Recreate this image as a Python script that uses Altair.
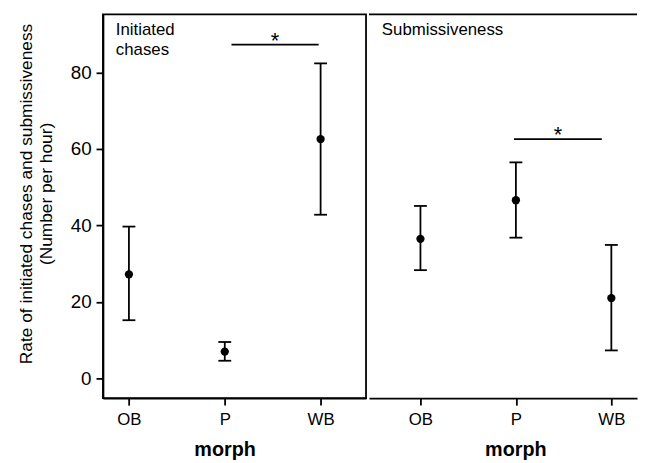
import altair as alt
import pandas as pd

# ---- data ----
morphs = ["OB", "P", "WB"]
positions = [1, 2, 3]
chase_mean = [27.2, 7.0, 62.6]
chase_low = [15.2, 4.6, 42.8]
chase_high = [39.7, 9.5, 82.4]
sub_mean = [36.5, 46.6, 21.0]
sub_low = [28.3, 36.8, 7.3]
sub_high = [45.1, 56.5, 34.9]
panel_labels = ["Initiated\nchases", "Submissiveness"]
sig_from = [2.07, 1.98]
sig_to = [2.98, 2.90]
sig_y = [87.3, 62.6]
sig_text = ["*", "*"]
y_ticks = [0, 20, 40, 60, 80]
y_title = ["Rate of initiated chases and submissiveness", "(Number per hour)"]
x_title = "morph"

FONT = "Liberation Sans"
LW = 1.8
H = 388
label_expr = "[" + ",".join("'%s'" % m for m in morphs) + "][datum.value - 1]"
ys = alt.Scale(domain=[-5.2, 95.2], nice=False, zero=False)


def panel(k, mean, low, high, xdomain, width, show_y, title_x, frame):
    df = pd.DataFrame({"morph": morphs, "pos": positions, "mean": mean,
                       "low": low, "high": high})
    sig = pd.DataFrame({"x1": [sig_from[k]], "x2": [sig_to[k]],
                        "y": [sig_y[k]], "t": [sig_text[k]]})
    lab = pd.DataFrame({"t": [panel_labels[k]]})
    xs = alt.Scale(domain=xdomain, nice=False, zero=False)
    xaxis = alt.Axis(values=positions, labelExpr=label_expr, title=x_title,
                     titleX=title_x, grid=False, tickSize=7, labelPadding=7,
                     labelFontSize=17, titleFontSize=20, titleFontWeight="bold",
                     titlePadding=12, domainWidth=LW, tickWidth=LW,
                     domainColor="black", tickColor="black",
                     labelColor="black", titleColor="black",
                     labelFont=FONT, titleFont=FONT)
    if show_y:
        yaxis = alt.Axis(values=y_ticks, title=y_title, grid=False, tickSize=7,
                         labelPadding=5, labelFontSize=19, titleFontSize=17.5,
                         titleFontWeight="normal", titleLineHeight=20,
                         titlePadding=15, titleY=181, domainWidth=LW,
                         tickWidth=LW, domainColor="black", tickColor="black",
                         labelColor="black", titleColor="black",
                         labelFont=FONT, titleFont=FONT)
    else:
        yaxis = None
    X = alt.X("pos:Q", scale=xs, axis=xaxis)
    base = alt.Chart(df)
    bars = base.mark_rule(color="black", strokeWidth=LW).encode(
        x=X, y=alt.Y("low:Q", scale=ys, axis=yaxis), y2="high:Q")
    cap_lo = base.mark_tick(orient="horizontal", size=13, thickness=LW,
                            color="black", opacity=1).encode(
        x=X, y=alt.Y("low:Q", scale=ys, axis=yaxis))
    cap_hi = base.mark_tick(orient="horizontal", size=13, thickness=LW,
                            color="black", opacity=1).encode(
        x=X, y=alt.Y("high:Q", scale=ys, axis=yaxis))
    pts = base.mark_circle(size=70, color="black", opacity=1).encode(
        x=X, y=alt.Y("mean:Q", scale=ys, axis=yaxis))
    sline = alt.Chart(sig).mark_rule(color="black", strokeWidth=LW).encode(
        x=alt.X("x1:Q", scale=xs, axis=xaxis), x2="x2:Q",
        y=alt.Y("y:Q", scale=ys, axis=yaxis))
    star = alt.Chart(sig).transform_calculate(
        mid="(datum.x1 + datum.x2) / 2").mark_text(
        font=FONT, fontSize=22, color="black", baseline="alphabetic", dy=3).encode(
        x=alt.X("mid:Q", scale=xs, axis=xaxis),
        y=alt.Y("y:Q", scale=ys, axis=yaxis), text="t:N")
    label = alt.Chart(lab).mark_text(
        font=FONT, fontSize=17, color="black", align="left",
        baseline="top", lineBreak="\n", lineHeight=20).encode(
        x=alt.value(13), y=alt.value(8), text="t:N")
    layers = [bars, cap_lo, cap_hi, pts, sline, star, label]
    if frame:
        view = alt.ViewBackground(stroke="black", strokeWidth=LW)
    else:
        top = alt.Chart(lab).mark_rule(color="black", strokeWidth=LW).encode(
            x=alt.value(0), x2=alt.value(width), y=alt.value(0))
        layers.append(top)
        view = alt.ViewBackground(stroke="transparent")
    return alt.layer(*layers).properties(width=width, height=H, view=view)


left = panel(0, chase_mean, chase_low, chase_high, [0.729, 3.474], 266,
             True, 123, True)
right = panel(1, sub_mean, sub_low, sub_high, [0.461, 3.269], 271,
              False, 148, False)

chart = alt.hconcat(left, right, spacing=0).properties(
    padding={"left": 8, "top": 2, "right": 0, "bottom": 0}
).configure(background="white")

chart.save("out.html", embed_options={"renderer": "svg", "actions": False})
